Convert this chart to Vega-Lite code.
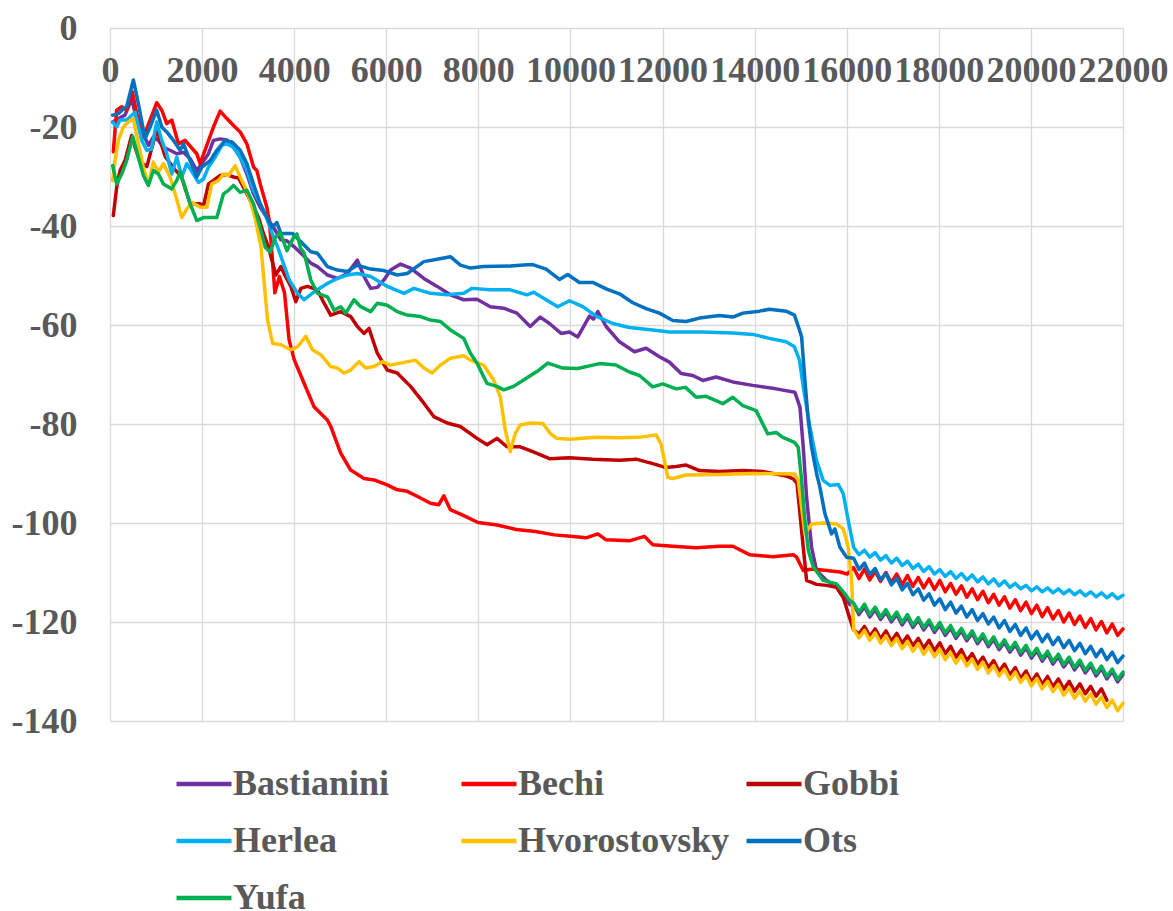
{
"$schema": "https://vega.github.io/schema/vega-lite/v6.json",
"width": 1013, "height": 693,
"autosize": {"type": "none"},
"padding": {"left": 110, "top": 28, "right": 50, "bottom": 190},
"background": "white",
"config": {"view": {"stroke": null}, "font": "Liberation Serif"},
"data": {"values": [
{"s":"Bastianini","x":60,"y":-19.0},{"s":"Bastianini","x":145,"y":-18.5},{"s":"Bastianini","x":326,"y":-17.6},{"s":"Bastianini","x":471,"y":-14.3},{"s":"Bastianini","x":580,"y":-18.6},{"s":"Bastianini","x":725,"y":-21.4},{"s":"Bastianini","x":834,"y":-23.7},{"s":"Bastianini","x":942,"y":-22.0},{"s":"Bastianini","x":1051,"y":-22.7},{"s":"Bastianini","x":1160,"y":-24.1},{"s":"Bastianini","x":1305,"y":-24.7},{"s":"Bastianini","x":1450,"y":-25.4},{"s":"Bastianini","x":1595,"y":-25.1},{"s":"Bastianini","x":1740,"y":-26.4},{"s":"Bastianini","x":1885,"y":-28.8},{"s":"Bastianini","x":1994,"y":-27.4},{"s":"Bastianini","x":2139,"y":-25.4},{"s":"Bastianini","x":2247,"y":-22.7},{"s":"Bastianini","x":2392,"y":-22.4},{"s":"Bastianini","x":2537,"y":-22.6},{"s":"Bastianini","x":2682,"y":-24.1},{"s":"Bastianini","x":2827,"y":-26.1},{"s":"Bastianini","x":2972,"y":-29.5},{"s":"Bastianini","x":3117,"y":-33.5},{"s":"Bastianini","x":3262,"y":-36.2},{"s":"Bastianini","x":3407,"y":-38.3},{"s":"Bastianini","x":3552,"y":-40.3},{"s":"Bastianini","x":3711,"y":-42.8},{"s":"Bastianini","x":3842,"y":-43.0},{"s":"Bastianini","x":4000,"y":-44.2},{"s":"Bastianini","x":4205,"y":-46.0},{"s":"Bastianini","x":4361,"y":-47.5},{"s":"Bastianini","x":4505,"y":-48.2},{"s":"Bastianini","x":4722,"y":-49.9},{"s":"Bastianini","x":4939,"y":-50.6},{"s":"Bastianini","x":5155,"y":-49.6},{"s":"Bastianini","x":5372,"y":-46.9},{"s":"Bastianini","x":5516,"y":-50.2},{"s":"Bastianini","x":5661,"y":-52.6},{"s":"Bastianini","x":5805,"y":-52.4},{"s":"Bastianini","x":5949,"y":-50.9},{"s":"Bastianini","x":6094,"y":-48.9},{"s":"Bastianini","x":6310,"y":-47.7},{"s":"Bastianini","x":6527,"y":-48.5},{"s":"Bastianini","x":6816,"y":-50.6},{"s":"Bastianini","x":7105,"y":-52.2},{"s":"Bastianini","x":7393,"y":-53.9},{"s":"Bastianini","x":7682,"y":-54.9},{"s":"Bastianini","x":7971,"y":-54.8},{"s":"Bastianini","x":8260,"y":-56.3},{"s":"Bastianini","x":8549,"y":-56.6},{"s":"Bastianini","x":8837,"y":-57.6},{"s":"Bastianini","x":9126,"y":-60.3},{"s":"Bastianini","x":9343,"y":-58.4},{"s":"Bastianini","x":9544,"y":-59.7},{"s":"Bastianini","x":9797,"y":-61.7},{"s":"Bastianini","x":9978,"y":-61.4},{"s":"Bastianini","x":10159,"y":-62.4},{"s":"Bastianini","x":10413,"y":-58.2},{"s":"Bastianini","x":10500,"y":-58.8},{"s":"Bastianini","x":10594,"y":-57.3},{"s":"Bastianini","x":10775,"y":-60.3},{"s":"Bastianini","x":11064,"y":-63.4},{"s":"Bastianini","x":11390,"y":-65.4},{"s":"Bastianini","x":11643,"y":-64.7},{"s":"Bastianini","x":11933,"y":-66.4},{"s":"Bastianini","x":12150,"y":-67.5},{"s":"Bastianini","x":12404,"y":-69.8},{"s":"Bastianini","x":12657,"y":-70.2},{"s":"Bastianini","x":12874,"y":-71.2},{"s":"Bastianini","x":13164,"y":-70.5},{"s":"Bastianini","x":13526,"y":-71.5},{"s":"Bastianini","x":13960,"y":-72.2},{"s":"Bastianini","x":14467,"y":-72.9},{"s":"Bastianini","x":14875,"y":-73.6},{"s":"Bastianini","x":14984,"y":-76.6},{"s":"Bastianini","x":15056,"y":-84.7},{"s":"Bastianini","x":15128,"y":-94.8},{"s":"Bastianini","x":15237,"y":-104.9},{"s":"Bastianini","x":15345,"y":-109.6},{"s":"Bastianini","x":15563,"y":-111.6},{"s":"Bastianini","x":15780,"y":-113.0},{"s":"Bastianini","x":15925,"y":-115.0},{"s":"Bastianini","x":16069,"y":-116.5},
{"s":"Bastianini","x":16150,"y":-116.4},{"s":"Bastianini","x":16267,"y":-118.5},{"s":"Bastianini","x":16384,"y":-116.9},{"s":"Bastianini","x":16501,"y":-119.0},{"s":"Bastianini","x":16618,"y":-117.5},{"s":"Bastianini","x":16735,"y":-119.5},{"s":"Bastianini","x":16852,"y":-118.0},{"s":"Bastianini","x":16969,"y":-120.0},{"s":"Bastianini","x":17086,"y":-118.5},{"s":"Bastianini","x":17203,"y":-120.6},{"s":"Bastianini","x":17320,"y":-119.0},{"s":"Bastianini","x":17437,"y":-121.1},{"s":"Bastianini","x":17554,"y":-119.6},{"s":"Bastianini","x":17671,"y":-121.6},{"s":"Bastianini","x":17788,"y":-120.1},{"s":"Bastianini","x":17905,"y":-122.1},{"s":"Bastianini","x":18022,"y":-120.6},{"s":"Bastianini","x":18139,"y":-122.7},{"s":"Bastianini","x":18256,"y":-121.2},{"s":"Bastianini","x":18373,"y":-123.3},{"s":"Bastianini","x":18490,"y":-121.8},{"s":"Bastianini","x":18607,"y":-123.8},{"s":"Bastianini","x":18724,"y":-122.3},{"s":"Bastianini","x":18841,"y":-124.4},{"s":"Bastianini","x":18958,"y":-122.9},{"s":"Bastianini","x":19075,"y":-125.0},{"s":"Bastianini","x":19192,"y":-123.5},{"s":"Bastianini","x":19309,"y":-125.6},{"s":"Bastianini","x":19426,"y":-124.1},{"s":"Bastianini","x":19543,"y":-126.1},{"s":"Bastianini","x":19660,"y":-124.6},{"s":"Bastianini","x":19777,"y":-126.7},{"s":"Bastianini","x":19894,"y":-125.2},{"s":"Bastianini","x":20011,"y":-127.3},{"s":"Bastianini","x":20128,"y":-125.8},{"s":"Bastianini","x":20245,"y":-127.9},{"s":"Bastianini","x":20362,"y":-126.4},{"s":"Bastianini","x":20479,"y":-128.5},{"s":"Bastianini","x":20596,"y":-127.0},{"s":"Bastianini","x":20713,"y":-129.1},{"s":"Bastianini","x":20830,"y":-127.6},{"s":"Bastianini","x":20947,"y":-129.7},{"s":"Bastianini","x":21064,"y":-128.2},{"s":"Bastianini","x":21181,"y":-130.3},{"s":"Bastianini","x":21298,"y":-128.8},{"s":"Bastianini","x":21415,"y":-130.9},{"s":"Bastianini","x":21532,"y":-129.4},{"s":"Bastianini","x":21649,"y":-131.5},{"s":"Bastianini","x":21766,"y":-130.0},{"s":"Bastianini","x":21883,"y":-132.1},{"s":"Bastianini","x":22000,"y":-130.6},

{"s":"Bechi","x":72,"y":-25.0},{"s":"Bechi","x":145,"y":-16.6},{"s":"Bechi","x":254,"y":-15.9},{"s":"Bechi","x":362,"y":-16.6},{"s":"Bechi","x":486,"y":-12.9},{"s":"Bechi","x":580,"y":-17.3},{"s":"Bechi","x":725,"y":-22.0},{"s":"Bechi","x":870,"y":-18.6},{"s":"Bechi","x":1015,"y":-15.1},{"s":"Bechi","x":1124,"y":-16.6},{"s":"Bechi","x":1232,"y":-19.3},{"s":"Bechi","x":1341,"y":-18.6},{"s":"Bechi","x":1486,"y":-23.4},{"s":"Bechi","x":1631,"y":-22.7},{"s":"Bechi","x":1885,"y":-25.4},{"s":"Bechi","x":1957,"y":-27.4},{"s":"Bechi","x":2102,"y":-23.7},{"s":"Bechi","x":2247,"y":-20.0},{"s":"Bechi","x":2392,"y":-16.8},{"s":"Bechi","x":2537,"y":-18.3},{"s":"Bechi","x":2682,"y":-19.7},{"s":"Bechi","x":2827,"y":-21.0},{"s":"Bechi","x":2972,"y":-23.4},{"s":"Bechi","x":3117,"y":-28.1},{"s":"Bechi","x":3190,"y":-28.8},{"s":"Bechi","x":3262,"y":-31.5},{"s":"Bechi","x":3407,"y":-36.2},{"s":"Bechi","x":3460,"y":-39.0},{"s":"Bechi","x":3530,"y":-47.0},{"s":"Bechi","x":3580,"y":-53.5},{"s":"Bechi","x":3680,"y":-50.2},{"s":"Bechi","x":3790,"y":-53.5},{"s":"Bechi","x":3890,"y":-63.0},{"s":"Bechi","x":4000,"y":-67.0},{"s":"Bechi","x":4180,"y":-71.0},{"s":"Bechi","x":4430,"y":-76.5},{"s":"Bechi","x":4720,"y":-79.2},{"s":"Bechi","x":4794,"y":-80.5},{"s":"Bechi","x":5010,"y":-85.9},{"s":"Bechi","x":5227,"y":-89.3},{"s":"Bechi","x":5516,"y":-91.0},{"s":"Bechi","x":5733,"y":-91.3},{"s":"Bechi","x":6020,"y":-92.3},{"s":"Bechi","x":6240,"y":-93.3},{"s":"Bechi","x":6455,"y":-93.6},{"s":"Bechi","x":6670,"y":-94.6},{"s":"Bechi","x":6960,"y":-96.0},{"s":"Bechi","x":7140,"y":-96.3},{"s":"Bechi","x":7250,"y":-94.5},{"s":"Bechi","x":7390,"y":-97.3},{"s":"Bechi","x":7661,"y":-98.4},{"s":"Bechi","x":7993,"y":-99.9},{"s":"Bechi","x":8408,"y":-100.4},{"s":"Bechi","x":8823,"y":-101.3},{"s":"Bechi","x":9238,"y":-101.7},{"s":"Bechi","x":9653,"y":-102.4},{"s":"Bechi","x":10000,"y":-102.7},{"s":"Bechi","x":10340,"y":-103.0},{"s":"Bechi","x":10594,"y":-102.2},{"s":"Bechi","x":10775,"y":-103.4},{"s":"Bechi","x":11281,"y":-103.6},{"s":"Bechi","x":11607,"y":-102.7},{"s":"Bechi","x":11788,"y":-104.4},{"s":"Bechi","x":12222,"y":-104.7},{"s":"Bechi","x":12730,"y":-105.0},{"s":"Bechi","x":13236,"y":-104.7},{"s":"Bechi","x":13526,"y":-104.7},{"s":"Bechi","x":13888,"y":-106.4},{"s":"Bechi","x":14395,"y":-106.8},{"s":"Bechi","x":14839,"y":-106.4},{"s":"Bechi","x":14911,"y":-106.9},{"s":"Bechi","x":15056,"y":-109.6},{"s":"Bechi","x":15273,"y":-109.3},{"s":"Bechi","x":15563,"y":-109.6},{"s":"Bechi","x":15852,"y":-109.9},{"s":"Bechi","x":16011,"y":-110.3},
{"s":"Bechi","x":16150,"y":-109.0},{"s":"Bechi","x":16267,"y":-111.2},{"s":"Bechi","x":16384,"y":-109.3},{"s":"Bechi","x":16501,"y":-111.5},{"s":"Bechi","x":16618,"y":-109.7},{"s":"Bechi","x":16735,"y":-111.8},{"s":"Bechi","x":16852,"y":-110.0},{"s":"Bechi","x":16969,"y":-112.1},{"s":"Bechi","x":17086,"y":-110.3},{"s":"Bechi","x":17203,"y":-112.5},{"s":"Bechi","x":17320,"y":-110.6},{"s":"Bechi","x":17437,"y":-112.8},{"s":"Bechi","x":17554,"y":-111.0},{"s":"Bechi","x":17671,"y":-113.1},{"s":"Bechi","x":17788,"y":-111.3},{"s":"Bechi","x":17905,"y":-113.4},{"s":"Bechi","x":18022,"y":-111.6},{"s":"Bechi","x":18139,"y":-113.9},{"s":"Bechi","x":18256,"y":-112.2},{"s":"Bechi","x":18373,"y":-114.4},{"s":"Bechi","x":18490,"y":-112.7},{"s":"Bechi","x":18607,"y":-115.0},{"s":"Bechi","x":18724,"y":-113.3},{"s":"Bechi","x":18841,"y":-115.5},{"s":"Bechi","x":18958,"y":-113.8},{"s":"Bechi","x":19075,"y":-116.1},{"s":"Bechi","x":19192,"y":-114.4},{"s":"Bechi","x":19309,"y":-116.6},{"s":"Bechi","x":19426,"y":-114.9},{"s":"Bechi","x":19543,"y":-117.2},{"s":"Bechi","x":19660,"y":-115.5},{"s":"Bechi","x":19777,"y":-117.7},{"s":"Bechi","x":19894,"y":-116.0},{"s":"Bechi","x":20011,"y":-118.3},{"s":"Bechi","x":20128,"y":-116.6},{"s":"Bechi","x":20245,"y":-118.9},{"s":"Bechi","x":20362,"y":-117.1},{"s":"Bechi","x":20479,"y":-119.4},{"s":"Bechi","x":20596,"y":-117.7},{"s":"Bechi","x":20713,"y":-120.0},{"s":"Bechi","x":20830,"y":-118.2},{"s":"Bechi","x":20947,"y":-120.5},{"s":"Bechi","x":21064,"y":-118.8},{"s":"Bechi","x":21181,"y":-121.1},{"s":"Bechi","x":21298,"y":-119.3},{"s":"Bechi","x":21415,"y":-121.6},{"s":"Bechi","x":21532,"y":-119.9},{"s":"Bechi","x":21649,"y":-122.2},{"s":"Bechi","x":21766,"y":-120.4},{"s":"Bechi","x":21883,"y":-122.7},{"s":"Bechi","x":22000,"y":-121.4},

{"s":"Gobbi","x":72,"y":-37.9},{"s":"Gobbi","x":145,"y":-32.2},{"s":"Gobbi","x":217,"y":-28.8},{"s":"Gobbi","x":326,"y":-26.8},{"s":"Gobbi","x":471,"y":-21.7},{"s":"Gobbi","x":544,"y":-24.1},{"s":"Gobbi","x":650,"y":-27.0},{"s":"Gobbi","x":800,"y":-28.0},{"s":"Gobbi","x":1015,"y":-20.5},{"s":"Gobbi","x":1200,"y":-26.0},{"s":"Gobbi","x":1400,"y":-28.5},{"s":"Gobbi","x":1550,"y":-30.0},{"s":"Gobbi","x":1740,"y":-35.5},{"s":"Gobbi","x":1957,"y":-35.5},{"s":"Gobbi","x":2030,"y":-36.0},{"s":"Gobbi","x":2139,"y":-31.5},{"s":"Gobbi","x":2247,"y":-30.8},{"s":"Gobbi","x":2392,"y":-29.8},{"s":"Gobbi","x":2537,"y":-29.6},{"s":"Gobbi","x":2682,"y":-30.1},{"s":"Gobbi","x":2791,"y":-30.3},{"s":"Gobbi","x":2936,"y":-32.8},{"s":"Gobbi","x":3081,"y":-35.5},{"s":"Gobbi","x":3226,"y":-38.3},{"s":"Gobbi","x":3335,"y":-41.6},{"s":"Gobbi","x":3444,"y":-44.3},{"s":"Gobbi","x":3495,"y":-46.2},{"s":"Gobbi","x":3603,"y":-49.9},{"s":"Gobbi","x":3711,"y":-48.2},{"s":"Gobbi","x":3800,"y":-50.0},{"s":"Gobbi","x":3928,"y":-52.2},{"s":"Gobbi","x":4036,"y":-55.3},{"s":"Gobbi","x":4144,"y":-52.6},{"s":"Gobbi","x":4289,"y":-52.2},{"s":"Gobbi","x":4505,"y":-52.9},{"s":"Gobbi","x":4650,"y":-55.6},{"s":"Gobbi","x":4794,"y":-58.0},{"s":"Gobbi","x":5010,"y":-57.3},{"s":"Gobbi","x":5227,"y":-58.3},{"s":"Gobbi","x":5372,"y":-60.3},{"s":"Gobbi","x":5516,"y":-61.7},{"s":"Gobbi","x":5625,"y":-60.7},{"s":"Gobbi","x":5805,"y":-65.7},{"s":"Gobbi","x":6022,"y":-69.1},{"s":"Gobbi","x":6238,"y":-69.7},{"s":"Gobbi","x":6527,"y":-72.4},{"s":"Gobbi","x":6816,"y":-75.8},{"s":"Gobbi","x":7032,"y":-78.5},{"s":"Gobbi","x":7321,"y":-79.8},{"s":"Gobbi","x":7610,"y":-80.5},{"s":"Gobbi","x":7971,"y":-82.9},{"s":"Gobbi","x":8188,"y":-84.2},{"s":"Gobbi","x":8404,"y":-82.9},{"s":"Gobbi","x":8621,"y":-84.6},{"s":"Gobbi","x":8909,"y":-84.6},{"s":"Gobbi","x":9182,"y":-85.6},{"s":"Gobbi","x":9544,"y":-87.0},{"s":"Gobbi","x":9978,"y":-86.8},{"s":"Gobbi","x":10485,"y":-87.1},{"s":"Gobbi","x":11064,"y":-87.3},{"s":"Gobbi","x":11426,"y":-87.1},{"s":"Gobbi","x":11788,"y":-88.0},{"s":"Gobbi","x":12078,"y":-88.8},{"s":"Gobbi","x":12295,"y":-88.6},{"s":"Gobbi","x":12512,"y":-88.3},{"s":"Gobbi","x":12802,"y":-89.4},{"s":"Gobbi","x":13236,"y":-89.6},{"s":"Gobbi","x":13743,"y":-89.4},{"s":"Gobbi","x":14177,"y":-89.6},{"s":"Gobbi","x":14684,"y":-90.5},{"s":"Gobbi","x":14839,"y":-91.1},{"s":"Gobbi","x":14920,"y":-92.0},{"s":"Gobbi","x":14984,"y":-98.1},{"s":"Gobbi","x":15056,"y":-104.9},{"s":"Gobbi","x":15128,"y":-111.6},{"s":"Gobbi","x":15345,"y":-112.4},{"s":"Gobbi","x":15563,"y":-112.6},{"s":"Gobbi","x":15780,"y":-113.0},{"s":"Gobbi","x":15925,"y":-115.0},{"s":"Gobbi","x":16033,"y":-118.3},
{"s":"Gobbi","x":16150,"y":-121.6},{"s":"Gobbi","x":16267,"y":-122.4},{"s":"Gobbi","x":16384,"y":-120.9},{"s":"Gobbi","x":16501,"y":-122.9},{"s":"Gobbi","x":16618,"y":-121.4},{"s":"Gobbi","x":16735,"y":-123.4},{"s":"Gobbi","x":16852,"y":-121.8},{"s":"Gobbi","x":16969,"y":-123.9},{"s":"Gobbi","x":17086,"y":-122.3},{"s":"Gobbi","x":17203,"y":-124.3},{"s":"Gobbi","x":17320,"y":-122.8},{"s":"Gobbi","x":17437,"y":-124.8},{"s":"Gobbi","x":17554,"y":-123.3},{"s":"Gobbi","x":17671,"y":-125.3},{"s":"Gobbi","x":17788,"y":-123.7},{"s":"Gobbi","x":17905,"y":-125.8},{"s":"Gobbi","x":18022,"y":-124.2},{"s":"Gobbi","x":18139,"y":-126.4},{"s":"Gobbi","x":18256,"y":-124.9},{"s":"Gobbi","x":18373,"y":-127.1},{"s":"Gobbi","x":18490,"y":-125.6},{"s":"Gobbi","x":18607,"y":-127.8},{"s":"Gobbi","x":18724,"y":-126.4},{"s":"Gobbi","x":18841,"y":-128.5},{"s":"Gobbi","x":18958,"y":-127.1},{"s":"Gobbi","x":19075,"y":-129.2},{"s":"Gobbi","x":19192,"y":-127.8},{"s":"Gobbi","x":19309,"y":-130.0},{"s":"Gobbi","x":19426,"y":-128.5},{"s":"Gobbi","x":19543,"y":-130.7},{"s":"Gobbi","x":19660,"y":-129.2},{"s":"Gobbi","x":19777,"y":-131.4},{"s":"Gobbi","x":19894,"y":-129.9},{"s":"Gobbi","x":20011,"y":-132.1},{"s":"Gobbi","x":20128,"y":-130.5},{"s":"Gobbi","x":20245,"y":-132.6},{"s":"Gobbi","x":20362,"y":-131.0},{"s":"Gobbi","x":20479,"y":-133.1},{"s":"Gobbi","x":20596,"y":-131.5},{"s":"Gobbi","x":20713,"y":-133.6},{"s":"Gobbi","x":20830,"y":-132.0},{"s":"Gobbi","x":20947,"y":-134.0},{"s":"Gobbi","x":21064,"y":-132.5},{"s":"Gobbi","x":21181,"y":-134.5},{"s":"Gobbi","x":21298,"y":-133.0},{"s":"Gobbi","x":21415,"y":-135.0},{"s":"Gobbi","x":21532,"y":-133.5},{"s":"Gobbi","x":21649,"y":-135.8},

{"s":"Herlea","x":58,"y":-19.0},{"s":"Herlea","x":145,"y":-20.0},{"s":"Herlea","x":217,"y":-18.6},{"s":"Herlea","x":362,"y":-18.6},{"s":"Herlea","x":544,"y":-17.0},{"s":"Herlea","x":689,"y":-22.7},{"s":"Herlea","x":797,"y":-24.7},{"s":"Herlea","x":900,"y":-24.5},{"s":"Herlea","x":1015,"y":-19.0},{"s":"Herlea","x":1124,"y":-22.7},{"s":"Herlea","x":1232,"y":-25.4},{"s":"Herlea","x":1341,"y":-29.5},{"s":"Herlea","x":1450,"y":-26.1},{"s":"Herlea","x":1559,"y":-30.1},{"s":"Herlea","x":1667,"y":-27.4},{"s":"Herlea","x":1812,"y":-29.5},{"s":"Herlea","x":1921,"y":-31.2},{"s":"Herlea","x":2030,"y":-30.5},{"s":"Herlea","x":2139,"y":-28.1},{"s":"Herlea","x":2284,"y":-26.1},{"s":"Herlea","x":2429,"y":-23.7},{"s":"Herlea","x":2537,"y":-23.4},{"s":"Herlea","x":2682,"y":-24.1},{"s":"Herlea","x":2827,"y":-26.1},{"s":"Herlea","x":2972,"y":-28.8},{"s":"Herlea","x":3117,"y":-32.8},{"s":"Herlea","x":3262,"y":-35.5},{"s":"Herlea","x":3407,"y":-38.5},{"s":"Herlea","x":3552,"y":-42.3},{"s":"Herlea","x":3639,"y":-44.2},{"s":"Herlea","x":3892,"y":-50.9},{"s":"Herlea","x":4072,"y":-53.6},{"s":"Herlea","x":4217,"y":-54.9},{"s":"Herlea","x":4433,"y":-53.3},{"s":"Herlea","x":4722,"y":-51.6},{"s":"Herlea","x":4939,"y":-50.6},{"s":"Herlea","x":5155,"y":-49.9},{"s":"Herlea","x":5372,"y":-49.6},{"s":"Herlea","x":5661,"y":-50.2},{"s":"Herlea","x":6022,"y":-52.2},{"s":"Herlea","x":6383,"y":-53.6},{"s":"Herlea","x":6600,"y":-52.6},{"s":"Herlea","x":6960,"y":-53.6},{"s":"Herlea","x":7321,"y":-53.9},{"s":"Herlea","x":7682,"y":-53.6},{"s":"Herlea","x":7863,"y":-52.6},{"s":"Herlea","x":8260,"y":-52.9},{"s":"Herlea","x":8693,"y":-52.9},{"s":"Herlea","x":9054,"y":-53.9},{"s":"Herlea","x":9200,"y":-53.4},{"s":"Herlea","x":9471,"y":-54.9},{"s":"Herlea","x":9725,"y":-56.3},{"s":"Herlea","x":9978,"y":-55.1},{"s":"Herlea","x":10268,"y":-56.3},{"s":"Herlea","x":10557,"y":-58.2},{"s":"Herlea","x":10919,"y":-59.7},{"s":"Herlea","x":11281,"y":-60.5},{"s":"Herlea","x":11788,"y":-61.0},{"s":"Herlea","x":12150,"y":-61.4},{"s":"Herlea","x":12874,"y":-61.4},{"s":"Herlea","x":13526,"y":-61.6},{"s":"Herlea","x":13960,"y":-61.9},{"s":"Herlea","x":14322,"y":-62.7},{"s":"Herlea","x":14684,"y":-63.4},{"s":"Herlea","x":14865,"y":-64.4},{"s":"Herlea","x":14974,"y":-67.1},{"s":"Herlea","x":15056,"y":-72.5},{"s":"Herlea","x":15201,"y":-80.6},{"s":"Herlea","x":15345,"y":-87.4},{"s":"Herlea","x":15490,"y":-91.4},{"s":"Herlea","x":15635,"y":-92.4},{"s":"Herlea","x":15816,"y":-92.2},{"s":"Herlea","x":15925,"y":-94.1},{"s":"Herlea","x":16033,"y":-99.5},
{"s":"Herlea","x":16150,"y":-104.9},{"s":"Herlea","x":16267,"y":-106.4},{"s":"Herlea","x":16384,"y":-105.5},{"s":"Herlea","x":16501,"y":-106.9},{"s":"Herlea","x":16618,"y":-106.0},{"s":"Herlea","x":16735,"y":-107.5},{"s":"Herlea","x":16852,"y":-106.6},{"s":"Herlea","x":16969,"y":-108.1},{"s":"Herlea","x":17086,"y":-107.1},{"s":"Herlea","x":17203,"y":-108.6},{"s":"Herlea","x":17320,"y":-107.7},{"s":"Herlea","x":17437,"y":-109.2},{"s":"Herlea","x":17554,"y":-108.3},{"s":"Herlea","x":17671,"y":-109.8},{"s":"Herlea","x":17788,"y":-108.8},{"s":"Herlea","x":17905,"y":-110.3},{"s":"Herlea","x":18022,"y":-109.4},{"s":"Herlea","x":18139,"y":-110.8},{"s":"Herlea","x":18256,"y":-109.8},{"s":"Herlea","x":18373,"y":-111.2},{"s":"Herlea","x":18490,"y":-110.2},{"s":"Herlea","x":18607,"y":-111.5},{"s":"Herlea","x":18724,"y":-110.5},{"s":"Herlea","x":18841,"y":-111.9},{"s":"Herlea","x":18958,"y":-110.9},{"s":"Herlea","x":19075,"y":-112.3},{"s":"Herlea","x":19192,"y":-111.3},{"s":"Herlea","x":19309,"y":-112.7},{"s":"Herlea","x":19426,"y":-111.7},{"s":"Herlea","x":19543,"y":-113.0},{"s":"Herlea","x":19660,"y":-112.2},{"s":"Herlea","x":19777,"y":-113.3},{"s":"Herlea","x":19894,"y":-112.6},{"s":"Herlea","x":20011,"y":-113.7},{"s":"Herlea","x":20128,"y":-112.9},{"s":"Herlea","x":20245,"y":-113.9},{"s":"Herlea","x":20362,"y":-113.1},{"s":"Herlea","x":20479,"y":-114.1},{"s":"Herlea","x":20596,"y":-113.3},{"s":"Herlea","x":20713,"y":-114.3},{"s":"Herlea","x":20830,"y":-113.5},{"s":"Herlea","x":20947,"y":-114.5},{"s":"Herlea","x":21064,"y":-113.7},{"s":"Herlea","x":21181,"y":-114.7},{"s":"Herlea","x":21298,"y":-113.9},{"s":"Herlea","x":21415,"y":-114.9},{"s":"Herlea","x":21532,"y":-114.1},{"s":"Herlea","x":21649,"y":-115.1},{"s":"Herlea","x":21766,"y":-114.3},{"s":"Herlea","x":21883,"y":-115.3},{"s":"Herlea","x":22000,"y":-114.6},

{"s":"Hvorostovsky","x":58,"y":-30.8},{"s":"Hvorostovsky","x":109,"y":-26.8},{"s":"Hvorostovsky","x":181,"y":-22.7},{"s":"Hvorostovsky","x":290,"y":-20.0},{"s":"Hvorostovsky","x":399,"y":-19.0},{"s":"Hvorostovsky","x":507,"y":-18.3},{"s":"Hvorostovsky","x":616,"y":-23.4},{"s":"Hvorostovsky","x":725,"y":-28.1},{"s":"Hvorostovsky","x":834,"y":-31.8},{"s":"Hvorostovsky","x":942,"y":-27.1},{"s":"Hvorostovsky","x":1051,"y":-29.1},{"s":"Hvorostovsky","x":1160,"y":-27.4},{"s":"Hvorostovsky","x":1305,"y":-30.1},{"s":"Hvorostovsky","x":1414,"y":-33.5},{"s":"Hvorostovsky","x":1559,"y":-38.3},{"s":"Hvorostovsky","x":1667,"y":-36.6},{"s":"Hvorostovsky","x":1776,"y":-35.2},{"s":"Hvorostovsky","x":1957,"y":-36.2},{"s":"Hvorostovsky","x":2102,"y":-36.2},{"s":"Hvorostovsky","x":2211,"y":-31.5},{"s":"Hvorostovsky","x":2356,"y":-30.8},{"s":"Hvorostovsky","x":2465,"y":-29.5},{"s":"Hvorostovsky","x":2573,"y":-29.8},{"s":"Hvorostovsky","x":2718,"y":-27.8},{"s":"Hvorostovsky","x":2827,"y":-30.1},{"s":"Hvorostovsky","x":2936,"y":-32.2},{"s":"Hvorostovsky","x":3045,"y":-34.9},{"s":"Hvorostovsky","x":3154,"y":-38.5},{"s":"Hvorostovsky","x":3278,"y":-44.2},{"s":"Hvorostovsky","x":3422,"y":-59.0},{"s":"Hvorostovsky","x":3531,"y":-63.7},{"s":"Hvorostovsky","x":3711,"y":-64.0},{"s":"Hvorostovsky","x":3928,"y":-65.0},{"s":"Hvorostovsky","x":4072,"y":-64.4},{"s":"Hvorostovsky","x":4253,"y":-62.3},{"s":"Hvorostovsky","x":4397,"y":-65.0},{"s":"Hvorostovsky","x":4578,"y":-66.0},{"s":"Hvorostovsky","x":4794,"y":-68.4},{"s":"Hvorostovsky","x":4939,"y":-68.7},{"s":"Hvorostovsky","x":5083,"y":-69.7},{"s":"Hvorostovsky","x":5227,"y":-69.1},{"s":"Hvorostovsky","x":5408,"y":-67.4},{"s":"Hvorostovsky","x":5552,"y":-68.7},{"s":"Hvorostovsky","x":5733,"y":-68.4},{"s":"Hvorostovsky","x":5913,"y":-67.4},{"s":"Hvorostovsky","x":6094,"y":-68.1},{"s":"Hvorostovsky","x":6310,"y":-67.7},{"s":"Hvorostovsky","x":6635,"y":-67.1},{"s":"Hvorostovsky","x":6816,"y":-68.7},{"s":"Hvorostovsky","x":6996,"y":-69.7},{"s":"Hvorostovsky","x":7177,"y":-68.1},{"s":"Hvorostovsky","x":7393,"y":-66.7},{"s":"Hvorostovsky","x":7682,"y":-66.2},{"s":"Hvorostovsky","x":7827,"y":-67.1},{"s":"Hvorostovsky","x":8115,"y":-68.1},{"s":"Hvorostovsky","x":8332,"y":-71.1},{"s":"Hvorostovsky","x":8476,"y":-74.5},{"s":"Hvorostovsky","x":8585,"y":-81.2},{"s":"Hvorostovsky","x":8693,"y":-85.6},{"s":"Hvorostovsky","x":8801,"y":-81.9},{"s":"Hvorostovsky","x":8909,"y":-80.2},{"s":"Hvorostovsky","x":9126,"y":-79.8},{"s":"Hvorostovsky","x":9400,"y":-79.9},{"s":"Hvorostovsky","x":9560,"y":-81.9},{"s":"Hvorostovsky","x":9700,"y":-82.9},{"s":"Hvorostovsky","x":9978,"y":-83.1},{"s":"Hvorostovsky","x":10557,"y":-82.7},{"s":"Hvorostovsky","x":11064,"y":-82.8},{"s":"Hvorostovsky","x":11499,"y":-82.7},{"s":"Hvorostovsky","x":11861,"y":-82.2},{"s":"Hvorostovsky","x":11970,"y":-84.1},{"s":"Hvorostovsky","x":12114,"y":-90.8},{"s":"Hvorostovsky","x":12223,"y":-91.0},{"s":"Hvorostovsky","x":12512,"y":-90.3},{"s":"Hvorostovsky","x":13236,"y":-90.2},{"s":"Hvorostovsky","x":13960,"y":-90.0},{"s":"Hvorostovsky","x":14875,"y":-90.1},{"s":"Hvorostovsky","x":14947,"y":-91.4},{"s":"Hvorostovsky","x":15020,"y":-96.8},{"s":"Hvorostovsky","x":15092,"y":-102.2},{"s":"Hvorostovsky","x":15165,"y":-101.2},{"s":"Hvorostovsky","x":15237,"y":-100.2},{"s":"Hvorostovsky","x":15490,"y":-100.0},{"s":"Hvorostovsky","x":15780,"y":-100.2},{"s":"Hvorostovsky","x":15925,"y":-101.2},{"s":"Hvorostovsky","x":16033,"y":-104.9},{"s":"Hvorostovsky","x":16105,"y":-111.6},
{"s":"Hvorostovsky","x":16150,"y":-121.5},{"s":"Hvorostovsky","x":16267,"y":-123.2},{"s":"Hvorostovsky","x":16384,"y":-121.7},{"s":"Hvorostovsky","x":16501,"y":-123.7},{"s":"Hvorostovsky","x":16618,"y":-122.2},{"s":"Hvorostovsky","x":16735,"y":-124.3},{"s":"Hvorostovsky","x":16852,"y":-122.8},{"s":"Hvorostovsky","x":16969,"y":-124.8},{"s":"Hvorostovsky","x":17086,"y":-123.3},{"s":"Hvorostovsky","x":17203,"y":-125.4},{"s":"Hvorostovsky","x":17320,"y":-123.9},{"s":"Hvorostovsky","x":17437,"y":-125.9},{"s":"Hvorostovsky","x":17554,"y":-124.4},{"s":"Hvorostovsky","x":17671,"y":-126.5},{"s":"Hvorostovsky","x":17788,"y":-125.0},{"s":"Hvorostovsky","x":17905,"y":-127.0},{"s":"Hvorostovsky","x":18022,"y":-125.5},{"s":"Hvorostovsky","x":18139,"y":-127.6},{"s":"Hvorostovsky","x":18256,"y":-126.2},{"s":"Hvorostovsky","x":18373,"y":-128.3},{"s":"Hvorostovsky","x":18490,"y":-126.8},{"s":"Hvorostovsky","x":18607,"y":-128.9},{"s":"Hvorostovsky","x":18724,"y":-127.5},{"s":"Hvorostovsky","x":18841,"y":-129.6},{"s":"Hvorostovsky","x":18958,"y":-128.1},{"s":"Hvorostovsky","x":19075,"y":-130.3},{"s":"Hvorostovsky","x":19192,"y":-128.8},{"s":"Hvorostovsky","x":19309,"y":-130.9},{"s":"Hvorostovsky","x":19426,"y":-129.5},{"s":"Hvorostovsky","x":19543,"y":-131.6},{"s":"Hvorostovsky","x":19660,"y":-130.1},{"s":"Hvorostovsky","x":19777,"y":-132.2},{"s":"Hvorostovsky","x":19894,"y":-130.8},{"s":"Hvorostovsky","x":20011,"y":-132.9},{"s":"Hvorostovsky","x":20128,"y":-131.4},{"s":"Hvorostovsky","x":20245,"y":-133.5},{"s":"Hvorostovsky","x":20362,"y":-132.0},{"s":"Hvorostovsky","x":20479,"y":-134.1},{"s":"Hvorostovsky","x":20596,"y":-132.6},{"s":"Hvorostovsky","x":20713,"y":-134.8},{"s":"Hvorostovsky","x":20830,"y":-133.3},{"s":"Hvorostovsky","x":20947,"y":-135.4},{"s":"Hvorostovsky","x":21064,"y":-133.9},{"s":"Hvorostovsky","x":21181,"y":-136.0},{"s":"Hvorostovsky","x":21298,"y":-134.5},{"s":"Hvorostovsky","x":21415,"y":-136.6},{"s":"Hvorostovsky","x":21532,"y":-135.1},{"s":"Hvorostovsky","x":21649,"y":-137.3},{"s":"Hvorostovsky","x":21766,"y":-135.8},{"s":"Hvorostovsky","x":21883,"y":-137.9},{"s":"Hvorostovsky","x":22000,"y":-136.4},

{"s":"Ots","x":58,"y":-17.6},{"s":"Ots","x":181,"y":-17.3},{"s":"Ots","x":290,"y":-16.3},{"s":"Ots","x":362,"y":-15.9},{"s":"Ots","x":507,"y":-10.5},{"s":"Ots","x":616,"y":-15.3},{"s":"Ots","x":761,"y":-22.4},{"s":"Ots","x":870,"y":-20.0},{"s":"Ots","x":1015,"y":-16.6},{"s":"Ots","x":1124,"y":-20.0},{"s":"Ots","x":1232,"y":-21.0},{"s":"Ots","x":1377,"y":-22.7},{"s":"Ots","x":1522,"y":-24.7},{"s":"Ots","x":1595,"y":-23.4},{"s":"Ots","x":1740,"y":-26.8},{"s":"Ots","x":1885,"y":-30.1},{"s":"Ots","x":1994,"y":-28.1},{"s":"Ots","x":2175,"y":-26.8},{"s":"Ots","x":2320,"y":-24.7},{"s":"Ots","x":2501,"y":-22.7},{"s":"Ots","x":2646,"y":-23.0},{"s":"Ots","x":2827,"y":-24.7},{"s":"Ots","x":2972,"y":-27.4},{"s":"Ots","x":3117,"y":-31.5},{"s":"Ots","x":3262,"y":-35.5},{"s":"Ots","x":3407,"y":-38.3},{"s":"Ots","x":3516,"y":-40.3},{"s":"Ots","x":3625,"y":-39.3},{"s":"Ots","x":3711,"y":-41.5},{"s":"Ots","x":3964,"y":-41.5},{"s":"Ots","x":4144,"y":-43.2},{"s":"Ots","x":4361,"y":-45.2},{"s":"Ots","x":4505,"y":-45.5},{"s":"Ots","x":4722,"y":-48.2},{"s":"Ots","x":4939,"y":-48.9},{"s":"Ots","x":5155,"y":-49.2},{"s":"Ots","x":5372,"y":-47.9},{"s":"Ots","x":5661,"y":-48.7},{"s":"Ots","x":5949,"y":-49.0},{"s":"Ots","x":6238,"y":-49.9},{"s":"Ots","x":6455,"y":-49.6},{"s":"Ots","x":6816,"y":-47.2},{"s":"Ots","x":7105,"y":-46.7},{"s":"Ots","x":7393,"y":-46.2},{"s":"Ots","x":7610,"y":-47.9},{"s":"Ots","x":7827,"y":-48.5},{"s":"Ots","x":8115,"y":-48.2},{"s":"Ots","x":8692,"y":-48.1},{"s":"Ots","x":8982,"y":-47.9},{"s":"Ots","x":9182,"y":-47.8},{"s":"Ots","x":9471,"y":-48.7},{"s":"Ots","x":9761,"y":-50.8},{"s":"Ots","x":9942,"y":-49.8},{"s":"Ots","x":10195,"y":-51.4},{"s":"Ots","x":10485,"y":-51.4},{"s":"Ots","x":10775,"y":-52.7},{"s":"Ots","x":11064,"y":-53.7},{"s":"Ots","x":11354,"y":-55.5},{"s":"Ots","x":11643,"y":-56.7},{"s":"Ots","x":11933,"y":-57.6},{"s":"Ots","x":12223,"y":-59.1},{"s":"Ots","x":12512,"y":-59.3},{"s":"Ots","x":12802,"y":-58.6},{"s":"Ots","x":13236,"y":-58.1},{"s":"Ots","x":13526,"y":-58.4},{"s":"Ots","x":13743,"y":-57.6},{"s":"Ots","x":14105,"y":-57.2},{"s":"Ots","x":14322,"y":-56.8},{"s":"Ots","x":14684,"y":-57.2},{"s":"Ots","x":14865,"y":-58.0},{"s":"Ots","x":14974,"y":-61.0},{"s":"Ots","x":15020,"y":-62.4},{"s":"Ots","x":15092,"y":-71.2},{"s":"Ots","x":15165,"y":-79.3},{"s":"Ots","x":15237,"y":-84.7},{"s":"Ots","x":15345,"y":-90.0},{"s":"Ots","x":15418,"y":-92.8},{"s":"Ots","x":15526,"y":-98.1},{"s":"Ots","x":15671,"y":-102.2},{"s":"Ots","x":15743,"y":-101.2},{"s":"Ots","x":15852,"y":-104.9},{"s":"Ots","x":15997,"y":-106.9},
{"s":"Ots","x":16150,"y":-107.1},{"s":"Ots","x":16267,"y":-109.4},{"s":"Ots","x":16384,"y":-108.1},{"s":"Ots","x":16501,"y":-110.4},{"s":"Ots","x":16618,"y":-109.2},{"s":"Ots","x":16735,"y":-111.5},{"s":"Ots","x":16852,"y":-110.2},{"s":"Ots","x":16969,"y":-112.5},{"s":"Ots","x":17086,"y":-111.2},{"s":"Ots","x":17203,"y":-113.5},{"s":"Ots","x":17320,"y":-112.2},{"s":"Ots","x":17437,"y":-114.5},{"s":"Ots","x":17554,"y":-113.3},{"s":"Ots","x":17671,"y":-115.6},{"s":"Ots","x":17788,"y":-114.3},{"s":"Ots","x":17905,"y":-116.6},{"s":"Ots","x":18022,"y":-115.3},{"s":"Ots","x":18139,"y":-117.5},{"s":"Ots","x":18256,"y":-116.0},{"s":"Ots","x":18373,"y":-118.2},{"s":"Ots","x":18490,"y":-116.8},{"s":"Ots","x":18607,"y":-119.0},{"s":"Ots","x":18724,"y":-117.5},{"s":"Ots","x":18841,"y":-119.7},{"s":"Ots","x":18958,"y":-118.3},{"s":"Ots","x":19075,"y":-120.4},{"s":"Ots","x":19192,"y":-119.0},{"s":"Ots","x":19309,"y":-121.2},{"s":"Ots","x":19426,"y":-119.7},{"s":"Ots","x":19543,"y":-121.9},{"s":"Ots","x":19660,"y":-120.5},{"s":"Ots","x":19777,"y":-122.7},{"s":"Ots","x":19894,"y":-121.2},{"s":"Ots","x":20011,"y":-123.4},{"s":"Ots","x":20128,"y":-121.9},{"s":"Ots","x":20245,"y":-124.0},{"s":"Ots","x":20362,"y":-122.5},{"s":"Ots","x":20479,"y":-124.6},{"s":"Ots","x":20596,"y":-123.1},{"s":"Ots","x":20713,"y":-125.2},{"s":"Ots","x":20830,"y":-123.7},{"s":"Ots","x":20947,"y":-125.8},{"s":"Ots","x":21064,"y":-124.3},{"s":"Ots","x":21181,"y":-126.4},{"s":"Ots","x":21298,"y":-124.9},{"s":"Ots","x":21415,"y":-127.0},{"s":"Ots","x":21532,"y":-125.5},{"s":"Ots","x":21649,"y":-127.6},{"s":"Ots","x":21766,"y":-126.1},{"s":"Ots","x":21883,"y":-128.2},{"s":"Ots","x":22000,"y":-126.9},

{"s":"Yufa","x":58,"y":-27.8},{"s":"Yufa","x":145,"y":-31.5},{"s":"Yufa","x":254,"y":-29.5},{"s":"Yufa","x":362,"y":-26.8},{"s":"Yufa","x":493,"y":-21.9},{"s":"Yufa","x":616,"y":-26.1},{"s":"Yufa","x":725,"y":-29.8},{"s":"Yufa","x":834,"y":-31.8},{"s":"Yufa","x":942,"y":-28.8},{"s":"Yufa","x":1051,"y":-29.5},{"s":"Yufa","x":1160,"y":-31.5},{"s":"Yufa","x":1341,"y":-32.5},{"s":"Yufa","x":1450,"y":-30.8},{"s":"Yufa","x":1522,"y":-29.1},{"s":"Yufa","x":1631,"y":-32.2},{"s":"Yufa","x":1740,"y":-35.5},{"s":"Yufa","x":1885,"y":-38.9},{"s":"Yufa","x":2030,"y":-38.3},{"s":"Yufa","x":2320,"y":-38.3},{"s":"Yufa","x":2465,"y":-33.5},{"s":"Yufa","x":2573,"y":-32.8},{"s":"Yufa","x":2682,"y":-31.8},{"s":"Yufa","x":2827,"y":-33.2},{"s":"Yufa","x":2972,"y":-32.8},{"s":"Yufa","x":3117,"y":-35.5},{"s":"Yufa","x":3262,"y":-40.3},{"s":"Yufa","x":3371,"y":-44.3},{"s":"Yufa","x":3480,"y":-45.3},{"s":"Yufa","x":3589,"y":-42.3},{"s":"Yufa","x":3697,"y":-41.3},{"s":"Yufa","x":3842,"y":-45.0},{"s":"Yufa","x":3987,"y":-42.3},{"s":"Yufa","x":4060,"y":-41.6},{"s":"Yufa","x":4140,"y":-44.5},{"s":"Yufa","x":4217,"y":-45.5},{"s":"Yufa","x":4361,"y":-50.9},{"s":"Yufa","x":4505,"y":-53.6},{"s":"Yufa","x":4722,"y":-54.3},{"s":"Yufa","x":4866,"y":-57.0},{"s":"Yufa","x":5010,"y":-56.3},{"s":"Yufa","x":5119,"y":-57.6},{"s":"Yufa","x":5300,"y":-54.9},{"s":"Yufa","x":5444,"y":-56.3},{"s":"Yufa","x":5661,"y":-57.3},{"s":"Yufa","x":5805,"y":-55.6},{"s":"Yufa","x":6022,"y":-56.0},{"s":"Yufa","x":6238,"y":-57.3},{"s":"Yufa","x":6455,"y":-58.0},{"s":"Yufa","x":6744,"y":-58.3},{"s":"Yufa","x":6960,"y":-59.0},{"s":"Yufa","x":7177,"y":-59.3},{"s":"Yufa","x":7393,"y":-61.0},{"s":"Yufa","x":7682,"y":-62.7},{"s":"Yufa","x":7827,"y":-65.7},{"s":"Yufa","x":7971,"y":-67.7},{"s":"Yufa","x":8188,"y":-71.8},{"s":"Yufa","x":8404,"y":-72.4},{"s":"Yufa","x":8549,"y":-73.1},{"s":"Yufa","x":8765,"y":-72.4},{"s":"Yufa","x":8982,"y":-71.1},{"s":"Yufa","x":9271,"y":-69.4},{"s":"Yufa","x":9508,"y":-67.7},{"s":"Yufa","x":9833,"y":-68.7},{"s":"Yufa","x":10159,"y":-68.8},{"s":"Yufa","x":10630,"y":-67.8},{"s":"Yufa","x":10992,"y":-68.1},{"s":"Yufa","x":11281,"y":-69.5},{"s":"Yufa","x":11499,"y":-70.2},{"s":"Yufa","x":11788,"y":-72.5},{"s":"Yufa","x":12005,"y":-71.9},{"s":"Yufa","x":12295,"y":-72.9},{"s":"Yufa","x":12500,"y":-72.6},{"s":"Yufa","x":12730,"y":-74.6},{"s":"Yufa","x":12947,"y":-74.4},{"s":"Yufa","x":13309,"y":-75.9},{"s":"Yufa","x":13526,"y":-74.6},{"s":"Yufa","x":13743,"y":-76.3},{"s":"Yufa","x":14033,"y":-77.3},{"s":"Yufa","x":14286,"y":-82.0},{"s":"Yufa","x":14467,"y":-81.7},{"s":"Yufa","x":14612,"y":-82.7},{"s":"Yufa","x":14865,"y":-83.7},{"s":"Yufa","x":14947,"y":-84.7},{"s":"Yufa","x":15020,"y":-91.4},{"s":"Yufa","x":15092,"y":-99.5},{"s":"Yufa","x":15165,"y":-105.5},{"s":"Yufa","x":15273,"y":-108.9},{"s":"Yufa","x":15490,"y":-111.6},{"s":"Yufa","x":15780,"y":-112.3},{"s":"Yufa","x":15961,"y":-114.3},{"s":"Yufa","x":16060,"y":-115.6},
{"s":"Yufa","x":16150,"y":-116.2},{"s":"Yufa","x":16267,"y":-118.0},{"s":"Yufa","x":16384,"y":-116.4},{"s":"Yufa","x":16501,"y":-118.5},{"s":"Yufa","x":16618,"y":-117.0},{"s":"Yufa","x":16735,"y":-119.0},{"s":"Yufa","x":16852,"y":-117.5},{"s":"Yufa","x":16969,"y":-119.5},{"s":"Yufa","x":17086,"y":-118.0},{"s":"Yufa","x":17203,"y":-120.1},{"s":"Yufa","x":17320,"y":-118.5},{"s":"Yufa","x":17437,"y":-120.6},{"s":"Yufa","x":17554,"y":-119.1},{"s":"Yufa","x":17671,"y":-121.1},{"s":"Yufa","x":17788,"y":-119.6},{"s":"Yufa","x":17905,"y":-121.6},{"s":"Yufa","x":18022,"y":-120.1},{"s":"Yufa","x":18139,"y":-122.2},{"s":"Yufa","x":18256,"y":-120.7},{"s":"Yufa","x":18373,"y":-122.8},{"s":"Yufa","x":18490,"y":-121.3},{"s":"Yufa","x":18607,"y":-123.3},{"s":"Yufa","x":18724,"y":-121.8},{"s":"Yufa","x":18841,"y":-123.9},{"s":"Yufa","x":18958,"y":-122.4},{"s":"Yufa","x":19075,"y":-124.5},{"s":"Yufa","x":19192,"y":-123.0},{"s":"Yufa","x":19309,"y":-125.1},{"s":"Yufa","x":19426,"y":-123.6},{"s":"Yufa","x":19543,"y":-125.6},{"s":"Yufa","x":19660,"y":-124.1},{"s":"Yufa","x":19777,"y":-126.2},{"s":"Yufa","x":19894,"y":-124.7},{"s":"Yufa","x":20011,"y":-126.8},{"s":"Yufa","x":20128,"y":-125.3},{"s":"Yufa","x":20245,"y":-127.4},{"s":"Yufa","x":20362,"y":-125.9},{"s":"Yufa","x":20479,"y":-128.0},{"s":"Yufa","x":20596,"y":-126.5},{"s":"Yufa","x":20713,"y":-128.6},{"s":"Yufa","x":20830,"y":-127.1},{"s":"Yufa","x":20947,"y":-129.2},{"s":"Yufa","x":21064,"y":-127.7},{"s":"Yufa","x":21181,"y":-129.8},{"s":"Yufa","x":21298,"y":-128.3},{"s":"Yufa","x":21415,"y":-130.4},{"s":"Yufa","x":21532,"y":-128.9},{"s":"Yufa","x":21649,"y":-131.0},{"s":"Yufa","x":21766,"y":-129.5},{"s":"Yufa","x":21883,"y":-131.6},{"s":"Yufa","x":22000,"y":-130.1}
]},
"mark": {"type": "line", "strokeWidth": 3.5, "strokeJoin": "round", "strokeCap": "round"},
"encoding": {
  "x": {"field": "x", "type": "quantitative",
    "scale": {"domain": [0, 22000], "nice": false, "zero": false},
    "axis": {"orient": "bottom", "offset": -693, "title": null,
      "values": [0,2000,4000,6000,8000,10000,12000,14000,16000,18000,20000,22000],
      "labelExpr": "'' + datum.value",
      "grid": true, "gridColor": "#D9D9D9", "gridWidth": 1.3,
      "domain": false, "ticks": false,
      "labelFont": "Liberation Serif", "labelFontWeight": "bold", "labelFontSize": 36, "labelColor": "#595959",
      "labelPadding": 25, "labelOverlap": false, "labelFlush": false}},
  "y": {"field": "y", "type": "quantitative",
    "scale": {"domain": [-140, 0], "nice": false},
    "axis": {"title": null,
      "values": [-140,-120,-100,-80,-60,-40,-20,0],
      "labelExpr": "datum.value == 0 ? '0' : '-' + abs(datum.value)",
      "grid": true, "gridColor": "#D9D9D9", "gridWidth": 1.3,
      "domain": false, "ticks": false,
      "labelFont": "Liberation Serif", "labelFontWeight": "bold", "labelFontSize": 36, "labelColor": "#595959",
      "labelPadding": 33, "labelOverlap": false}},
  "color": {"field": "s", "type": "nominal",
    "scale": {"domain": ["Bastianini","Bechi","Gobbi","Herlea","Hvorostovsky","Ots","Yufa"],
              "range": ["#7030A0","#FF0000","#C00000","#00B0F0","#FFC000","#0070C0","#00B050"]},
    "legend": {"orient": "none", "legendX": 64, "legendY": 726, "direction": "horizontal", "columns": 3,
      "title": null, "symbolType": "stroke", "symbolSize": 3025, "symbolStrokeWidth": 4.5,
      "labelFont": "Liberation Serif", "labelFontWeight": "bold", "labelFontSize": 36, "labelColor": "#595959",
      "labelLimit": 400, "labelOffset": -1, "gridAlign": "all", "columnPadding": 7, "rowPadding": 9, "padding": 0}}
}
}
